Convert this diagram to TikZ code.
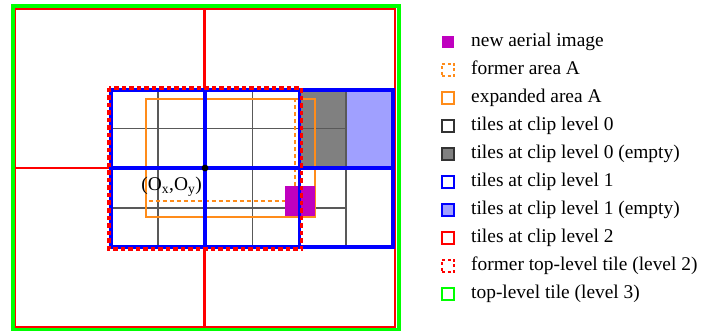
\documentclass[tikz,border=0pt]{standalone}
\usepackage{fontspec}
\setmainfont{Liberation Serif}
\definecolor{cmag}{HTML}{BF00BF}
\definecolor{corange}{HTML}{FF8C1A}
\definecolor{clblue}{HTML}{A0A0FF}
\definecolor{cgray}{HTML}{808080}
\definecolor{cblue}{HTML}{0000FF}
\definecolor{cred}{HTML}{FF0000}
\definecolor{cgreen}{HTML}{00FF00}
\begin{document}
\begin{tikzpicture}[x=1pt,y=-1pt,
  lvlzero/.style={draw=black!65, line width=1.4pt},
  lvlone/.style={draw=cblue, line width=3.3pt},
  lvltwo/.style={draw=cred, line width=2.4pt},
  lvlthree/.style={draw=cgreen, line width=4pt},
  oldtop/.style={draw=cred, line width=3.2pt, dash pattern=on 4.5pt off 3pt},
  areaold/.style={draw=corange, line width=1.7pt, dash pattern=on 4pt off 3pt},
  areanew/.style={draw=corange, line width=1.7pt},
  legbox/.style={minimum width=12pt, minimum height=12pt, inner sep=0pt, line width=2.2pt},
  legtext/.style={anchor=base west, inner sep=0pt, font=\fontsize{19.4}{23}\selectfont}
]
\useasboundingbox (0,0) rectangle (701,331);
% empty tiles fills
\fill[cgray] (299.5,89) rectangle (346,168);
\fill[clblue] (346,90) rectangle (393,168);
% level 2 red tiles
\draw[lvltwo] (15,9) rectangle (395,327);
\draw[lvltwo] (204.5,9) -- (204.5,327);
\draw[lvltwo] (15,168) -- (395,168);
% level 3 green tile
\draw[lvlthree] (13,6) rectangle (398.7,330);
% level 0 black grid
\foreach \gx in {158,252.7,346} \draw[lvlzero] (\gx,90) -- (\gx,247);
\foreach \gy in {128.7,208} \draw[lvlzero] (111,\gy) -- (346,\gy);
% areas
\draw[areanew] (145.7,98.7) rectangle (315.3,216.7);
\draw[areaold] (145.7,98.7) rectangle (295.3,200.7);
% new aerial image
\fill[cmag] (285,186) rectangle (315,216);
% level 1 blue tiles
\draw[lvlone] (111,90) rectangle (393,247);
\draw[lvlone] (205,90) -- (205,247);
\draw[lvlone] (299.5,90) -- (299.5,247);
\draw[lvlone] (111,168) -- (393,168);
% former top-level tile
\draw[oldtop] (109,88) rectangle (301.7,249);
% origin
\fill[black] (205,168) circle (3.4);
\node[anchor=base east, inner sep=0pt, font=\fontsize{19.4}{23}\selectfont] (orig) at (202,190) {(O\textsubscript{x},O\textsubscript{y})};
% legend
\node[legbox, fill=cmag] (m0) at (448,41.7) {};
\node[legbox, draw=corange, dash pattern=on 3pt off 2.5pt] (m1) at (448,69.7) {};
\node[legbox, draw=corange] (m2) at (448,97.7) {};
\node[legbox, draw=black!80] (m3) at (448,125.7) {};
\node[legbox, draw=black!80, fill=cgray] (m4) at (448,153.7) {};
\node[legbox, draw=cblue] (m5) at (448,181.7) {};
\node[legbox, draw=cblue, fill=clblue] (m6) at (448,209.7) {};
\node[legbox, draw=cred] (m7) at (448,237.7) {};
\node[legbox, draw=cred, dash pattern=on 3pt off 2.5pt] (m8) at (448,265.7) {};
\node[legbox, draw=cgreen] (m9) at (448,293.7) {};
\node[legtext] (t0) at (471,46.7) {new aerial image};
\node[legtext] (t1) at (471,74.7) {former area A};
\node[legtext] (t2) at (471,102.7) {expanded area A};
\node[legtext] (t3) at (471,130.7) {tiles at clip level 0};
\node[legtext] (t4) at (471,158.7) {tiles at clip level 0 (empty)};
\node[legtext] (t5) at (471,186.7) {tiles at clip level 1};
\node[legtext] (t6) at (471,214.7) {tiles at clip level 1 (empty)};
\node[legtext] (t7) at (471,242.7) {tiles at clip level 2};
\node[legtext] (t8) at (471,270.7) {former top-level tile (level 2)};
\node[legtext] (t9) at (471,298.7) {top-level tile (level 3)};
\end{tikzpicture}
\end{document}
